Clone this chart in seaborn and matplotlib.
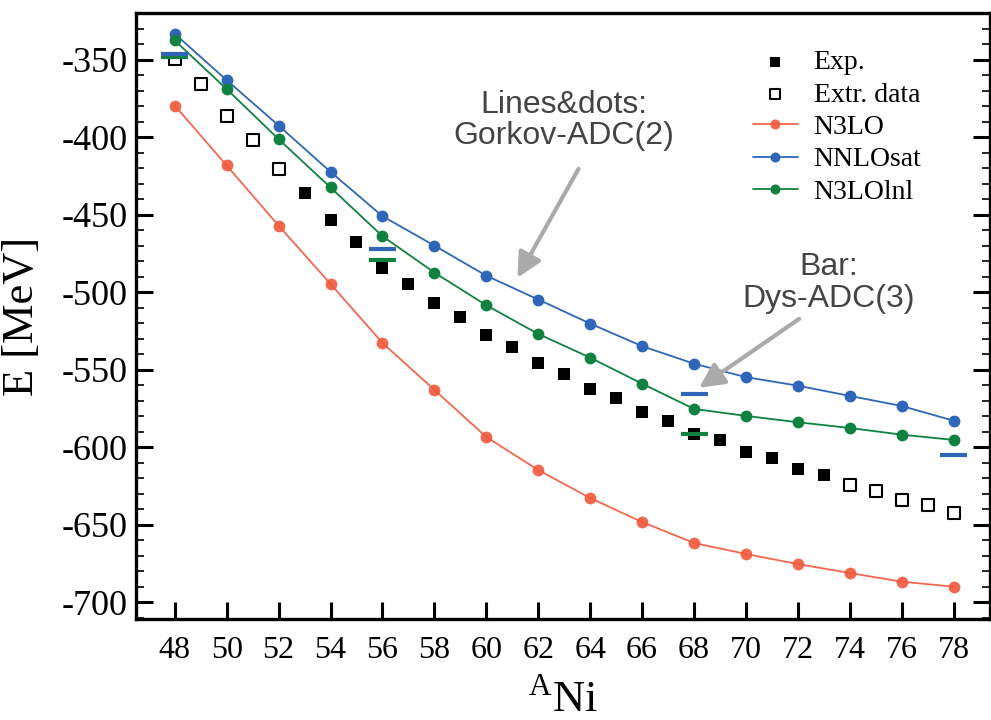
import numpy as np
import pandas as pd
import matplotlib
matplotlib.use("Agg")
import matplotlib.pyplot as plt
from matplotlib.ticker import MultipleLocator
import seaborn as sns

# ===== data =====
A_theory = [48, 50, 52, 54, 56, 58, 60, 62, 64, 66, 68, 70, 72, 74, 76, 78]
E_n3lo = [-379.5, -418.2, -457.0, -494.6, -532.7, -563.0, -593.4, -614.7,
          -632.8, -648.3, -661.8, -668.9, -675.4, -681.2, -686.8, -690.0]
E_nnlosat = [-333.2, -363.1, -392.4, -422.3, -450.9, -469.9, -489.3, -504.7,
             -520.2, -534.8, -546.1, -554.8, -560.3, -566.9, -573.4, -582.9]
E_n3lolnl = [-337.5, -368.9, -401.2, -432.4, -463.8, -487.3, -508.4, -526.9,
             -542.2, -559.0, -575.3, -579.8, -583.9, -587.6, -591.9, -595.3]

A_exp = list(range(53, 74))
E_exp = [-435.9, -453.5, -467.8, -484.5, -494.6, -506.9, -515.9, -527.3, -535.3,
         -545.8, -552.7, -562.6, -568.4, -577.1, -582.9, -591.2, -595.3, -603.1,
         -607.1, -614.0, -618.1]

A_extr = [48, 49, 50, 51, 52, 74, 75, 76, 77, 78]
E_extr = [-349.5, -365.9, -386.2, -401.8, -420.4, -624.6, -628.0, -634.1, -637.1, -642.2]

# Dys-ADC(3) bars
A_bar_sat = [48, 56, 68, 78]
E_bar_sat = [-346.5, -472.0, -565.8, -605.0]
A_bar_lnl = [48, 56, 68]
E_bar_lnl = [-348.5, -479.0, -591.2]

c_red = "#F0583C"
c_blue = "#2F66B9"
c_green = "#108240"

sns.set_style("ticks")
plt.rcParams["font.family"] = ["Liberation Serif", "DejaVu Serif"]
plt.rcParams["mathtext.fontset"] = "custom"
plt.rcParams["mathtext.rm"] = "Liberation Serif"
plt.rcParams["axes.unicode_minus"] = False
plt.rcParams["text.color"] = "black"
plt.rcParams["axes.labelcolor"] = "black"
plt.rcParams["xtick.color"] = "black"
plt.rcParams["ytick.color"] = "black"
plt.rcParams["axes.edgecolor"] = "black"

fig = plt.figure(figsize=(9.91, 7.2), dpi=100)
ax = fig.add_axes([0.137, 0.140, 0.862, 0.8415])

sns.lineplot(x=A_theory, y=E_n3lo, ax=ax, color=c_red, lw=1.3, marker="o",
             markersize=8.5, markeredgewidth=0, alpha=0.9, label="N3LO")
sns.lineplot(x=A_theory, y=E_nnlosat, ax=ax, color=c_blue, lw=1.3, marker="o",
             markersize=8.5, markeredgewidth=0, label="NNLOsat")
sns.lineplot(x=A_theory, y=E_n3lolnl, ax=ax, color=c_green, lw=1.3, marker="o",
             markersize=8.5, markeredgewidth=0, label="N3LOlnl")

sns.scatterplot(x=A_exp, y=E_exp, ax=ax, marker="s", s=80, color="black",
                edgecolor="black", linewidth=0, label="Exp.", zorder=4)
sns.scatterplot(x=A_extr, y=E_extr, ax=ax, marker="s", s=70, facecolor="white",
                edgecolor="black", linewidth=1.5, label="Extr. data", zorder=4)

ax.hlines(E_bar_lnl, np.array(A_bar_lnl) - 0.52, np.array(A_bar_lnl) + 0.52,
          color=c_green, lw=3, zorder=5)
ax.hlines(E_bar_sat, np.array(A_bar_sat) - 0.52, np.array(A_bar_sat) + 0.52,
          color=c_blue, lw=3, zorder=5)

ax.set_xlim(46.5, 79.4)
ax.set_ylim(-711, -320)
ax.xaxis.set_major_locator(MultipleLocator(2))
ax.yaxis.set_major_locator(MultipleLocator(50))
ax.yaxis.set_minor_locator(MultipleLocator(10))
ax.tick_params(which="both", direction="in", left=True, right=True, top=False, bottom=True)
ax.tick_params(which="major", length=12, width=2.2)
ax.tick_params(which="minor", length=6, width=1.2)
ax.tick_params(axis="y", labelsize=26, pad=6)
ax.tick_params(axis="x", labelsize=23, pad=12)
for s in ax.spines.values():
    s.set_linewidth(2.4)

ax.set_xlabel(r"$^{\mathrm{A}}$Ni", fontsize=32, labelpad=10)
ax.set_ylabel("E [MeV]", fontsize=32, labelpad=14)

# legend
h, l = ax.get_legend_handles_labels()
order = ["Exp.", "Extr. data", "N3LO", "NNLOsat", "N3LOlnl"]
hd = dict(zip(l, h))
ax.legend([hd[k] for k in order], order, loc="upper left",
          bbox_to_anchor=(0.722, 0.94), frameon=False, fontsize=20,
          borderpad=0, borderaxespad=0, handlelength=1.65, handletextpad=0.55,
          labelspacing=0.25, markerscale=0.85)

# annotations
ax.text(63.0, -389.4, "Lines&dots:\nGorkov-ADC(2)", ha="center", va="center",
        fontsize=23, color="#444444", family=["Liberation Sans", "DejaVu Sans"],
        linespacing=1.05)
ax.annotate("", xy=(61.2, -490.7), xytext=(63.55, -420.4),
            arrowprops=dict(arrowstyle="-|>,head_length=0.6,head_width=0.3",
                            color="#AAAAAA", lw=3, mutation_scale=25,
                            shrinkA=0, shrinkB=0))
ax.text(73.2, -494.0, "Bar:\nDys-ADC(3)", ha="center", va="center",
        fontsize=23, color="#444444", family=["Liberation Sans", "DejaVu Sans"],
        linespacing=1.05)
ax.annotate("", xy=(68.2, -561.7), xytext=(72.05, -517.2),
            arrowprops=dict(arrowstyle="-|>,head_length=0.6,head_width=0.3",
                            color="#AAAAAA", lw=3, mutation_scale=25,
                            shrinkA=0, shrinkB=0))

fig.savefig("out.png", dpi=100)
